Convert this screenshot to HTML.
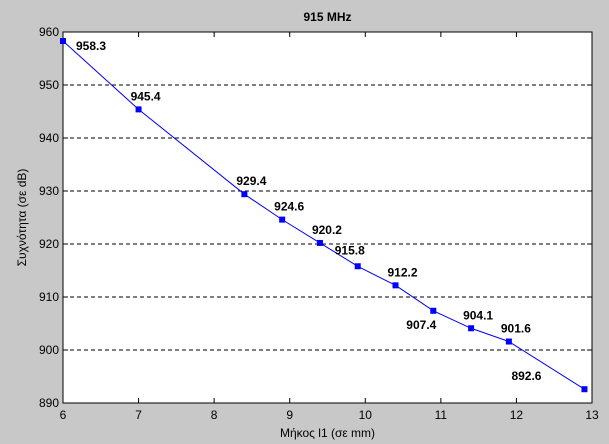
<!DOCTYPE html>
<html><head><meta charset="utf-8"><style>
body{margin:0;background:#c8c8c8;}
svg{display:block;font-family:"Liberation Sans",Arial,sans-serif;}
</style></head><body>
<svg id="chart" width="609" height="444"></svg>
<script>
const xVals=[6,7,8.4,8.9,9.4,9.9,10.4,10.9,11.4,11.9,12.9];
const yVals=[958.3,945.4,929.4,924.6,920.2,915.8,912.2,907.4,904.1,901.6,892.6];
const xTicks=[6,7,8,9,10,11,12,13];
const yTicks=[890,900,910,920,930,940,950,960];
const labelSide=["r","a","a","a","a","ul","a","bl","a","a","l"];
const L=63,R=592,T=32,B=403;
const xs=v=>L+(v-6)/(13-6)*(R-L);
const ys=v=>B-(v-890)/(960-890)*(B-T);
const svg=document.getElementById('chart');
const NS='http://www.w3.org/2000/svg';
function mk(t,a,p){const e=document.createElementNS(NS,t);for(const k in a)e.setAttribute(k,a[k]);(p||svg).appendChild(e);return e;}
let e=mk('rect',{x:L,y:T,width:R-L,height:B-T,fill:'#fff'});

yTicks.forEach(v=>{const y=ys(v);
 if(v>890&&v<960){const g=mk('line',{x1:L,x2:R,y1:y,y2:y,stroke:'#000','stroke-dasharray':'4,3','stroke-width':1});
 }
 mk('line',{x1:L,x2:L+5,y1:y,y2:y,stroke:'#000'});mk('line',{x1:R,x2:R-5,y1:y,y2:y,stroke:'#000'});
 const t=mk('text',{x:L-4,y:y+4,'text-anchor':'end','font-size':12});t.textContent=v;
 });
xTicks.forEach(v=>{const x=xs(v);
 mk('line',{x1:x,x2:x,y1:B,y2:B-5,stroke:'#000'});mk('line',{x1:x,x2:x,y1:T,y2:T+5,stroke:'#000'});
 const t=mk('text',{x:x,y:B+16,'text-anchor':'middle','font-size':12});t.textContent=v;
 });
e=mk('rect',{x:L,y:T,width:R-L,height:B-T,fill:'none',stroke:'#000'});

const pts=xVals.map((x,i)=>xs(x)+','+ys(yVals[i])).join(' ');
e=mk('polyline',{points:pts,fill:'none',stroke:'#0000ff','stroke-width':1});

xVals.forEach((xv,i)=>{const x=xs(xv),y=ys(yVals[i]);
 const m=mk('rect',{x:x-3,y:y-3,width:6,height:6,fill:'#0000ff'});
 
 let tx,ty;const s=labelSide[i];
 if(s==='r'){tx=x+13;ty=y+9;}
 else if(s==='a'){tx=x-8;ty=y-9;}
 else if(s==='ul'){tx=x-23;ty=y-12;}
 else if(s==='bl'){tx=x-27;ty=y+18;}
 else {tx=x-73;ty=y-9;}
 const t=mk('text',{x:tx,y:ty,'font-size':12,'font-weight':'bold'});t.textContent=yVals[i];
 });
e=mk('text',{x:(L+R)/2,y:21,'text-anchor':'middle','font-size':12,'font-weight':'bold'});e.textContent='915 MHz';

e=mk('text',{x:(L+R)/2,y:437,'text-anchor':'middle','font-size':12});e.textContent='Μήκος l1 (σε mm)';

e=mk('text',{x:0,y:0,'text-anchor':'middle','font-size':12,transform:'translate(26,'+((T+B)/2)+') rotate(-90)'});e.textContent='Συχνότητα (σε dB)';

</script>
</body></html>
